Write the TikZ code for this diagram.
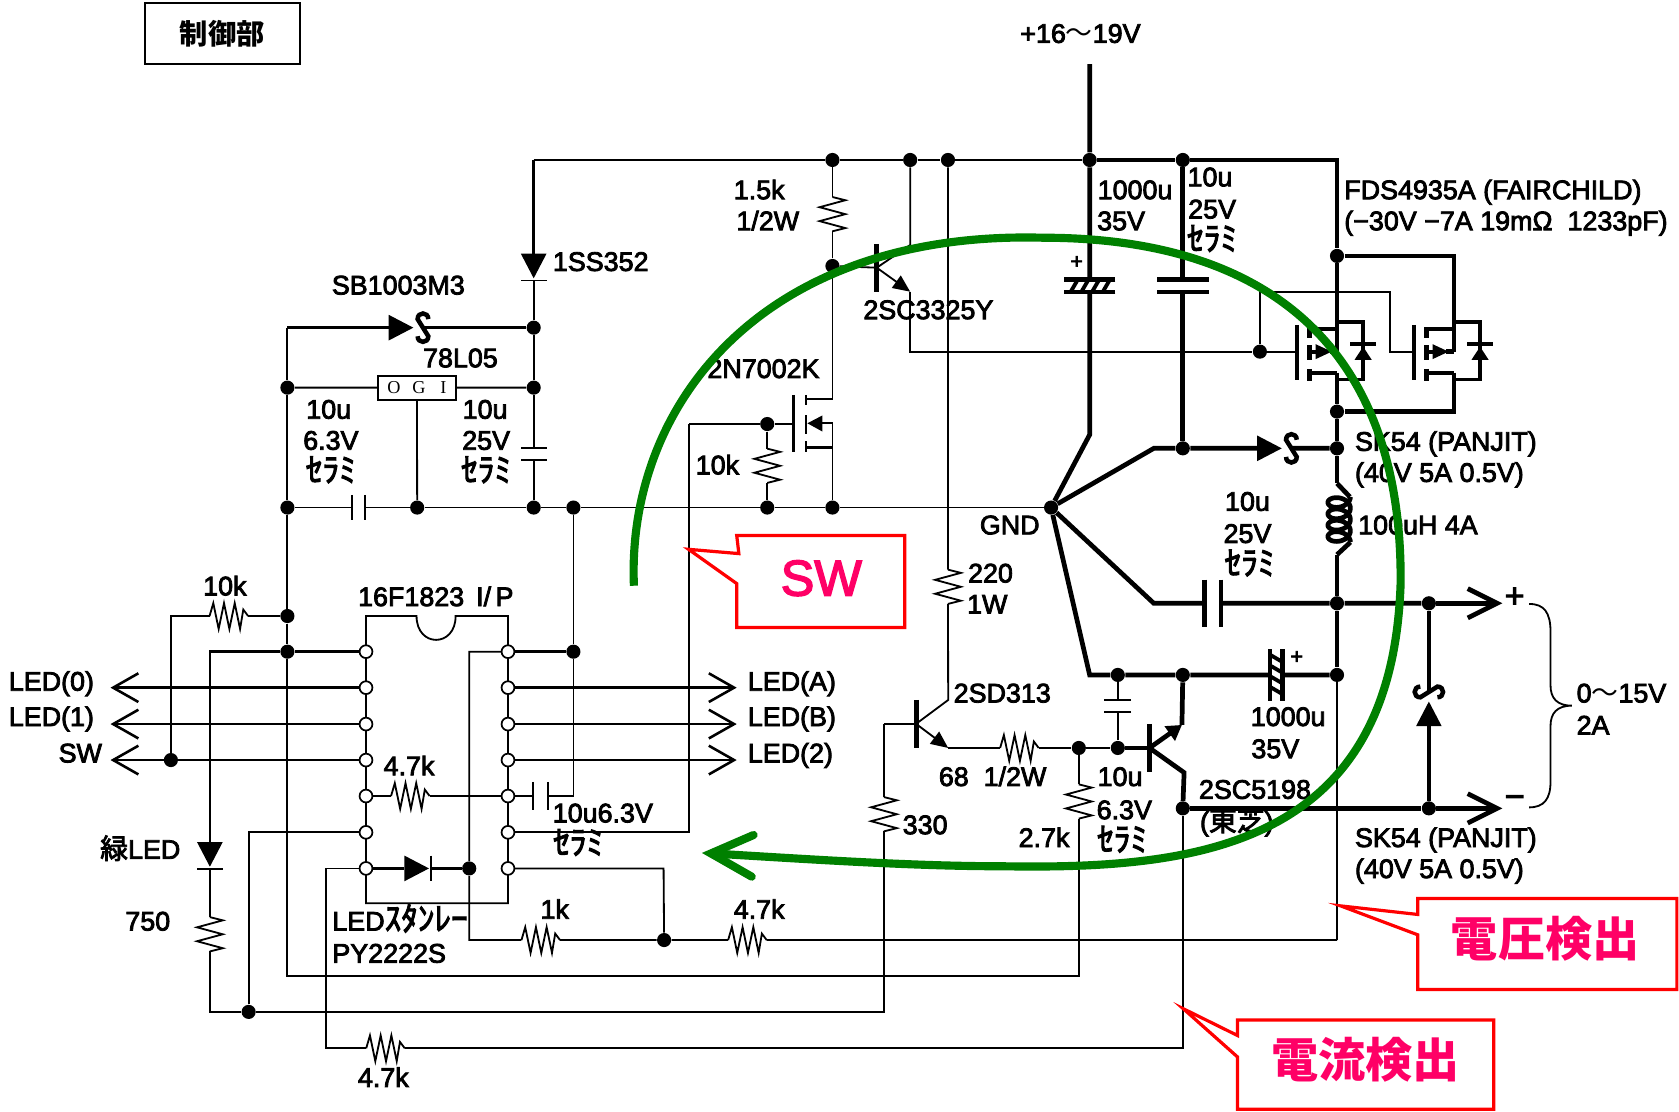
\documentclass[tikz,border=0pt]{standalone}
\usepackage{fontspec}
\usetikzlibrary{arrows.meta}
\setmainfont{Liberation Sans}[FakeBold=3]
\newfontfamily\jpf{Noto Sans CJK JP}
\newfontfamily\katf{Noto Sans CJK JP}[FakeBold=3]
\newfontfamily\serf{Liberation Serif}
\newcommand\lab{\fontsize{12.55}{14}\selectfont}
\newcommand\kat[1]{{\katf\fontsize{15.5}{16}\selectfont #1}}
\newcommand\kan[1]{{\katf\fontsize{13}{14}\selectfont #1}}
\definecolor{hotred}{HTML}{FF0066}
\definecolor{gcurve}{HTML}{008000}
\tikzset{
 wthin/.style={line width=0.85pt},
 wmid/.style={line width=1.2pt},
 wthick/.style={line width=2.2pt},
 jdot/.style={circle,fill=black,inner sep=0pt,minimum size=6.6pt},
 icpin/.style={circle,draw=black,fill=white,line width=0.8pt,inner sep=0pt,minimum size=6pt},
 lbl/.style={inner sep=0pt,font=\lab,text height=8pt,text depth=0pt},
 lbw/.style={lbl,anchor=west},
 barbs/.style={-{Straight Barb[length=11.8pt,width=13.4pt]}},
 barbb/.style={-{Straight Barb[length=13.7pt,width=13.7pt]}},
 tri/.style={-{Triangle[length=8pt,width=7pt]}},
 callout/.style={draw=red,line width=1.5pt,fill=white,line join=miter},
 bigtxt/.style={inner sep=0pt,text=hotred},
 pics/rh/.style={code={
   \draw[wthin] (-18,0)--(-14.5,-12)--(-9.5,12)--(-4.5,-12)--(0.5,12)--(5.5,-12)--(10.5,12)--(13.5,-6)--(18,0);
   \coordinate (-a) at (-18,0); \coordinate (-b) at (18,0);}},
 pics/rv/.style={code={
   \draw[wthin] (-16,0)--(-13,-12)--(-6.5,12)--(0,-12)--(6.5,12)--(13,-12)--(16,0);
   \coordinate (-a) at (-16,0); \coordinate (-b) at (16,0);}},
 pics/capp/.style 2 args={code={
   \draw (-#1,-#2)--(-#1,#2) (#1,-#2)--(#1,#2);
   \coordinate (-a) at (-#1,0); \coordinate (-b) at (#1,0);}},
 pics/ecap/.style={code={
   \draw[line width=2pt] (-6,-24)--(-6,24) (6,-24)--(6,24);
   \foreach \k in {-19,-9,1,11}{\draw[line width=1.8pt] (-6,\k)--(6,\k+7);}
   \coordinate (-a) at (-6,0); \coordinate (-b) at (6,0);}},
 pics/dio/.style={code={
   \fill (0,0)--(-23,-12)--(-23,12)--cycle;
   \draw[wthin] (2,-12)--(2,12);
   \coordinate (-a) at (-23,0); \coordinate (-b) at (2,0);}},
 pics/sdio/.style={code={
   \fill (0,0)--(-23,-12)--(-23,12)--cycle;
   \draw[line width=2.1pt] (14,-8) .. controls (14,-15) and (4,-15) .. (4,-8) -- (14,8) .. controls (14,15) and (4,15) .. (4,8);
   \coordinate (-a) at (-23,0); \coordinate (-b) at (9,0);}},
 pics/mosp/.style={code={
   \draw[line width=2pt] (-37.6,-25)--(-37.6,26.6);
   \draw[line width=2pt] (-25.6,-23)--(-25.6,-13) (-25.6,-6)--(-25.6,8) (-25.6,16)--(-25.6,27);
   \draw[line width=1.8pt] (-25.6,-21.4)--(0,-21.4) (-25.6,19.6)--(0,19.6);
   \draw[line width=1.8pt] (0,-28)--(24.4,-28)--(24.4,26)--(0,26);
   \fill (-20,-7)--(-5,0)--(-20,7)--cycle;
   \draw[line width=1.8pt] (-25.6,0)--(-20,0);
   \draw[wthick] (-7,0)--(0,0);
   \fill (24.4,-4.6)--(16.4,7.6)--(32.4,7.6)--cycle;
   \draw[line width=1.8pt] (12.4,-7)--(36.4,-7);
   \coordinate (-a) at (0,0); \coordinate (-b) at (0,19.6); \coordinate (-g) at (-37.6,0);}},
}
\begin{document}
\begin{tikzpicture}[x=0.5pt,y=-0.5pt,line cap=butt,line join=miter]
\useasboundingbox (0,0) rectangle (1568,1038);
\fill[white] (0,0) rectangle (1568,1038);

% ---- junctions
\foreach \n/\x/\y in {tR1/777.4/149.4,tR2/850/149.4,tR3/885.3/149.4,tR4/1017.6/149.4,tR5/1104.6/149.4,
 n1/498.4/306,n2/498.4/362,n3/498.4/474,n4/268.4/362,n5/268.4/474,n6/389.6/474,n7/535.5/474,n8/716.5/474,n9/777.4/474,gnd/981.6/474,
 n10/777.4/248.4,n11/716.5/396,n12/1176.6/328.4,
 m1/1248.6/239,m2/1248.6/384.4,m3/1248.6/418.7,c1/1104.6/418.7,m4/1248.6/563.4,m5/1334.4/563.4,m6/1248.6/630.3,
 c2/1104.6/630.3,c3/1043.9/630.3,c4/1043.9/698.5,c5/1007.5/698.5,e1/1104.6/754.9,e2/1334.4/754.9,
 l1/268.4/575.3,l2/268.4/608.6,l3/535.5/608.6,l4/159.6/709.8,l5/438.2/811,l6/620.2/877.9,l7/232.2/945}
 {\node[jdot] (\n) at (\x,\y) {};}

% ---- free coordinates
\coordinate (ctop) at (1017.6,60);
\coordinate (tl) at (498.4,149.4);
\coordinate (tr) at (1248.6,149.4);
\coordinate (cb1) at (1017.6,406);
\coordinate (g1) at (1077.5,418.7);
\coordinate (g2) at (1077.5,563.4);
\coordinate (g3) at (1017.6,630.3);
\coordinate (oplus) at (1403,563.4);
\coordinate (omin) at (1403,754.9);
\coordinate (sbl) at (268.4,306);
\coordinate (lb) at (268.4,911.5);
\coordinate (rb) at (1007.5,911.5);
\coordinate (gdrop) at (1176.6,273);
\coordinate (gdr2) at (1298,273);
\coordinate (gdr3) at (1298,328.4);
\coordinate (m2t) at (1357.8,239);
\coordinate (m2b) at (1357.8,384.4);
\coordinate (lend1) at (1248.6,451.4);
\coordinate (lend2) at (1248.6,518);
\coordinate (vs) at (1248.6,877.8);
\coordinate (capc) at (535.5,743.4);
\coordinate (swr) at (643.7,777.3);
\coordinate (swt) at (643.7,396);
\coordinate (icl) at (438.2,608.6);

% ---- components
\pic[rotate=-90,wthick] (ec1) at (1017.6,267) {ecap};
\pic[rotate=-90,line width=2pt] (cb) at (1104.6,267) {capp={6}{24}};
\pic[line width=2pt] (cc) at (1132.5,563.4) {capp={7.7}{22}};
\pic (ec2) at (1191.8,630.3) {ecap};
\pic[rotate=-90,wthin] (cf) at (1043.9,659.2) {capp={5.5}{12.5}};
\pic[rotate=-90,wthin] (c78) at (498.4,423.7) {capp={5.7}{12}};
\pic[wthin] (cd) at (334.6,474) {capp={6}{11.8}};
\pic[wthin] (ce) at (504.8,743.4) {capp={6.8}{13.3}};
\pic (sd1) at (1197,418.7) {sdio};
\pic (sd2) at (386,306) {sdio};
\pic[rotate=90] (sd3) at (1334.4,655.2) {sdio};
\pic[rotate=-90] (d1) at (498.4,259.9) {dio};
\pic[rotate=-90] (d2) at (196,809.4) {dio};
\pic (d3) at (400.6,811) {dio};
\pic (q1) at (1248.6,328.4) {mosp};
\pic (q2) at (1357.8,328.4) {mosp};
\pic[rotate=-90] (r15) at (777.4,200) {rv};
\pic[rotate=-90] (r10) at (716.5,435) {rv};
\pic[rotate=-90] (r220) at (885.3,548) {rv};
\pic[rotate=-90] (r330) at (825.5,760.4) {rv};
\pic[rotate=-90] (r27) at (1007.5,748.5) {rv};
\pic[rotate=-90] (r750) at (196,872.5) {rv};
\pic (r68) at (952,698.5) {rh};
\pic (r10k) at (213.7,575.3) {rh};
\pic (r47a) at (383.2,743.4) {rh};
\pic (r1k) at (505,877.9) {rh};
\pic (r47b) at (698,877.9) {rh};
\pic (r47c) at (360,979) {rh};

% ---- thick power wires
\draw[wthick] (ctop)--(tR4)--(ec1-a) (ec1-b)--(cb1)--(gnd);
\draw[wthick] (tR4)--(tR5)--(tr)--(m1)--(q1-a);
\draw[wthick] (m1)--(m2t)--(q2-a) (q2-b)--(m2b)--(m2);
\draw[wthick] (q1-b)--(m2)--(m3)--(lend1);
\draw[wthick] (tR5)--(cb-a) (cb-b)--(c1);
\draw[wthick] (gnd)--(g1)--(c1)--(sd1-a) (sd1-b)--(m3);
\draw[wthick] (gnd)--(g2)--(cc-a) (cc-b)--(m4)--(m5);
\draw[wthick,barbb] (m5)--(oplus);
\draw[wthick] (gnd)--(g3)--(c3)--(c2)--(ec2-a) (ec2-b)--(m6);
\draw[wthick] (lend2)--(m4)--(m6);
\draw[wthick] (lend1)--++(12,12.6);
\draw[wthick,variable=\t,samples=140,domain=0:1440,smooth] plot ({1250.6+10.5*cos(\t)},{464+\t/34+7*sin(\t)});
\draw[wthick] (1261.1,506.4)--(lend2);
\draw[wthick] (e1)--(e2);
\draw[wthick,barbb] (e2)--(omin);
\draw[wthick] (e2)--(sd3-a) (sd3-b)--(m5);
\draw[wthin] (m6)--(vs);

% 2SC5198
\coordinate (q3b) at (1073.5,698.5);
\coordinate (q3e) at (1103.8,677);
\coordinate (q3c) at (1105.8,721.5);
\draw[line width=2.6pt] (1073.5,676)--(1073.5,720.6);
\draw[wthick] (c2)--(q3e);
\draw[wthick,-{Triangle[length=7pt,width=8pt]}] (q3b)--(q3e);
\draw[wthick] (q3b)--(q3c)--(e1);
\draw[wthick] (c4)--(q3b);
\draw[wthin] (e1)--(1104.6,979)--(r47c-b) (r47c-a)--(304.7,979)--(304.7,811)--(341.8,811);

% ---- thin wires upper-left
\draw[wmid] (tl)--(tR1)--(tR2)--(tR3)--(tR4);
\draw[wmid] (tl)--(d1-a);
\draw[wthin] (d1-b)--(n1)--(n2)--(c78-a) (c78-b)--(n3);
\draw[wmid] (n1)--(sd2-b) (sd2-a)--(sbl);
\draw[wthin] (sbl)--(n4)--(n5)--(l1)--(l2)--(lb)--(rb)--(r27-b);
\node[draw=black,line width=1pt,fill=white,minimum width=36.4pt,minimum height=11.2pt,inner sep=0pt,font=\serf\fontsize{8.5}{9}\selectfont] (ogi) at (389.4,362) {O\hspace{5.5pt}G\hspace{7pt}I};
\draw[wthin] (n4)--(ogi.west) (ogi.east)--(n2) (ogi.south)--(n6);
\draw[wthin] (n5)--(cd-a) (cd-b)--(n6)--(n3)--(n7)--(n8)--(n9)--(gnd);
\draw[wthin] (n7)--(l3)--(capc)--(ce-b);

% 1.5k, 2SC3325Y
\draw[wthin] (tR1)--(r15-a) (r15-b)--(n10)--(777.4,372.6)--(752.7,372.6);
\draw[wthin] (n10)--(818.8,250);
\draw[line width=2.4pt] (818.8,227.8)--(818.8,272.4);
\draw[wthin] (818.8,250)--(850,228.8)--(tR2);
\draw[wthin,tri] (818.8,250)--(850,272.4);
\draw[wthin] (850,272.4)--(850,328.4)--(n12)--(q1-g);
\draw[wthin] (n12)--(gdrop)--(gdr2)--(gdr3)--(q2-g);

% 2N7002K
\draw[wmid] (740.8,368.8)--(740.8,421.8);
\draw[wmid] (752.7,368.8)--(752.7,378) (752.7,388)--(752.7,405) (752.7,412)--(752.7,421.8);
\draw[wmid] (752.7,417.7)--(777.4,417.7);
\fill (754,395.3)--(768,388)--(768,403)--cycle;
\draw[wthin] (768,395.3)--(777.4,395.3)--(n9);
\draw[wthin] (swt)--(n11)--(740.8,396);
\draw[wthin] (n11)--(r10-a) (r10-b)--(n8);

% 220, 2SD313
\draw[wthin] (tR3)--(r220-a) (r220-b)--(885.5,653.7)--(855.5,676);
\draw[line width=2.4pt] (855.5,653.7)--(855.5,698.2);
\draw[wthin,tri] (855.5,676)--(885.5,698.5);
\draw[wthin] (885.5,698.5)--(r68-a) (r68-b)--(c5)--(c4);
\draw[wthin] (825.5,676)--(855.5,676);
\draw[wthin] (825.5,676)--(r330-a) (r330-b)--(825.5,945)--(l7)--(196,945)--(r750-b);
\draw[wthin] (c3)--(cf-a) (cf-b)--(c4);
\draw[wthin] (c5)--(r27-a);

% ---- PIC
\draw[wthin] (341.8,575.3)--(389,575.3) .. controls (389,605) and (425.5,605) .. (425.5,575.3)--(474.4,575.3)--(474.4,843.6)--(341.8,843.6)--cycle;
\foreach \i/\y in {1/608.6,2/642.2,3/676.2,4/709.8,5/743.4,6/777.3,7/811}{
  \coordinate (pL\i) at (341.8,\y);
  \coordinate (pR\i) at (474.4,\y);
}
\draw[wmid] (pL1)--(l2)--(196,608.6)--(d2-a);
\draw[wthin] (d2-b)--(r750-a);
\draw[wmid,barbs] (pL2)--(103.2,642.2);
\draw[wmid,barbs] (pL3)--(103.2,676.2);
\draw[wmid,barbs] (pL4)--(103.2,709.8);
\draw[wmid,barbs] (pR2)--(688,642.2);
\draw[wmid,barbs] (pR3)--(688,676.2);
\draw[wmid,barbs] (pR4)--(688,709.8);
\draw[wthin] (l1)--(r10k-b) (r10k-a)--(159.6,575.3)--(l4);
\draw[wmid] (pR1)--(l3);
\draw[wthin] (pR1)--(icl)--(l5)--(438.2,877.9)--(r1k-a) (r1k-b)--(l6)--(r47b-a) (r47b-b)--(vs);
\draw[wthin] (pL5)--(r47a-a) (r47a-b)--(pR5)--(ce-a);
\draw[wthin] (l7)--(232.2,777.3)--(pL6);
\draw[wthin] (pR6)--(swr)--(swt);
\draw[wmid] (pL7)--(d3-a) (d3-b)--(l5);
\draw[wthin] (pR7)--(619.7,811)--(l6);
\foreach \i/\y in {1/608.6,2/642.2,3/676.2,4/709.8,5/743.4,6/777.3,7/811}{
  \node[icpin] (pinL\i) at (341.8,\y) {};
  \node[icpin] (pinR\i) at (474.4,\y) {};
}

% brace
\draw[wthin] (1428,564) .. controls (1442,564) and (1448,572) .. (1448,590) -- (1448,640) .. controls (1448,652) and (1454,659) .. (1468,659)
  .. controls (1454,659) and (1448,666) .. (1448,678) -- (1448,730) .. controls (1448,746) and (1442,754) .. (1428,754);

% ---- texts
\node[draw=black,line width=0.9pt,minimum width=72.5pt,minimum height=28.5pt,inner sep=0pt,font=\jpf\bfseries\fontsize{13.2}{14}\selectfont] (ttl) at (207.5,31.5) {制御部};
\node[lbl] (t01) at (1009,32) {+16{\jpf〜}19V};
\node[lbl] (t02) at (709,178) {1.5k};
\node[lbl] (t03) at (717,207) {1/2W};
\node[lbl] (t04) at (1060,178) {1000u};
\node[lbl] (t05) at (1047,207) {35V};
\node[lbl] (t06) at (1130,166) {10u};
\node[lbl] (t07) at (1132,196) {25V};
\node[lbl] (t08) at (1132,226) {\kat{ｾﾗﾐ}};
\node[lbw] (t09) at (1255,178) {FDS4935A (FAIRCHILD)};
\node[lbw] (t10) at (1255,207) {(−30V −7A 19mΩ\ \ 1233pF)};
\node[lbl] (t11) at (561,245) {1SS352};
\node[lbl] (t12) at (372,267) {SB1003M3};
\node[lbl] (t13) at (430,335) {78L05};
\node[lbl] (t14) at (713,345) {2N7002K};
\node[lbl] (t15) at (867,290) {2SC3325Y};
\node[lbl] (t16) at (307,383) {10u};
\node[lbl] (t17) at (309,412) {6.3V};
\node[lbl] (t18) at (309,442) {\kat{ｾﾗﾐ}};
\node[lbl] (t19) at (453,383) {10u};
\node[lbl] (t20) at (454,412) {25V};
\node[lbl] (t21) at (454,442) {\kat{ｾﾗﾐ}};
\node[lbl] (t22) at (670,435) {10k};
\node[lbl] (t23) at (943,491) {GND};
\node[lbw] (t24) at (1265,413) {SK54 (PANJIT)};
\node[lbw] (t25) at (1265,442) {(40V 5A 0.5V)};
\node[lbl] (t26) at (1165,469) {10u};
\node[lbl] (t27) at (1165,499) {25V};
\node[lbl] (t28) at (1167,529) {\kat{ｾﾗﾐ}};
\node[lbw] (t29) at (1268,491) {100uH 4A};
\node[lbl] (t30) at (925,536) {220};
\node[lbl] (t31) at (922,565) {1W};
\node[lbl] (t32) at (210,548) {10k};
\node[lbl] (t33) at (407,558) {16F1823 \,I/\,P};
\node[lbl] (t34) at (48,637) {LED(0)};
\node[lbl] (t35) at (48,670) {LED(1)};
\node[lbl] (t36) at (75,704) {SW};
\node[lbw] (t37) at (698,637) {LED(A)};
\node[lbw] (t38) at (698,670) {LED(B)};
\node[lbw] (t39) at (698,704) {LED(2)};
\node[lbl] (t40) at (382,716) {4.7k};
\node[lbl] (t41) at (563,760) {10u6.3V};
\node[lbl] (t42) at (540,790) {\kat{ｾﾗﾐ}};
\node[lbl] (t43) at (131,794) {\kan{緑}LED};
\node[lbl] (t44) at (138,861) {750};
\node[lbw] (t45) at (310,861) {LED\kat{ｽﾀﾝﾚｰ}};
\node[lbw] (t46) at (310,891) {PY2222S};
\node[lbl] (t47) at (518,850) {1k};
\node[lbl] (t48) at (709,850) {4.7k};
\node[lbl] (t49) at (358,1007) {4.7k};
\node[lbl] (t50) at (936,648) {2SD313};
\node[lbl] (t51) at (927,726) {68\ \ 1/2W};
\node[lbl] (t52) at (864,771) {330};
\node[lbl] (t53) at (975,783) {2.7k};
\node[lbl] (t54) at (1046,726) {10u};
\node[lbl] (t55) at (1050,757) {6.3V};
\node[lbl] (t56) at (1048,787) {\kat{ｾﾗﾐ}};
\node[lbl] (t57) at (1172,738) {2SC5198};
\node[lbl] (t58) at (1155,768) {(\kan{東芝})};
\node[lbl] (t59) at (1203,670) {1000u};
\node[lbl] (t60) at (1191,700) {35V};
\node[lbw] (t61) at (1265,783) {SK54 (PANJIT)};
\node[lbw] (t62) at (1265,812) {(40V 5A 0.5V)};
\node[lbw] (t63) at (1472,648) {0{\jpf〜}15V};
\node[lbw] (t64) at (1472,678) {2A};
\node[inner sep=0pt,font=\fontsize{10}{11}\selectfont] (t65) at (1005.5,245) {+};
\node[inner sep=0pt,font=\fontsize{10}{11}\selectfont] (t66) at (1211,614) {+};
\node[inner sep=0pt,font=\fontsize{16}{17}\selectfont] (t67) at (1414.5,558) {+};
\node[inner sep=0pt,font=\fontsize{16}{17}\selectfont] (t68) at (1414.5,748.6) {−};

% ---- callouts
\draw[callout] (688,500)--(845,500)--(845,586)--(688,586)--(688,545)--(643,513)--(690,517)--cycle;
\node[bigtxt,font=\fontsize{23.5}{26}\selectfont] (tsw) at (767,540) {SW};
\draw[callout] (1324,839)--(1566,839)--(1566,924)--(1324,924)--(1324,873)--(1252,846)--(1324,854)--cycle;
\node[bigtxt,font=\jpf\bfseries\fontsize{22}{24}\selectfont] (tv) at (1443,877) {電圧検出};
\draw[callout] (1155.6,952.5)--(1395,952.5)--(1395,1036)--(1155.6,1036)--(1155.6,987)--(1105,942)--(1155.6,967)--cycle;
\node[bigtxt,font=\jpf\bfseries\fontsize{22}{24}\selectfont] (ti) at (1275,990) {電流検出};

% ---- green current path
\coordinate (gtip) at (664,797);
\draw[gcurve,line width=3.8pt] (592,547) .. controls (585,380) and (710,215) .. (974,222)
  .. controls (1200,222) and (1310,340) .. (1308,545)
  .. controls (1300,790) and (1120,812) .. (937,809)
  .. controls (850,809) and (750,802) .. (gtip);
\draw[gcurve,line width=3.8pt,line cap=round,line join=miter] (703.7,779.8)--(gtip)--(702,818.7);
\end{tikzpicture}
\end{document}
